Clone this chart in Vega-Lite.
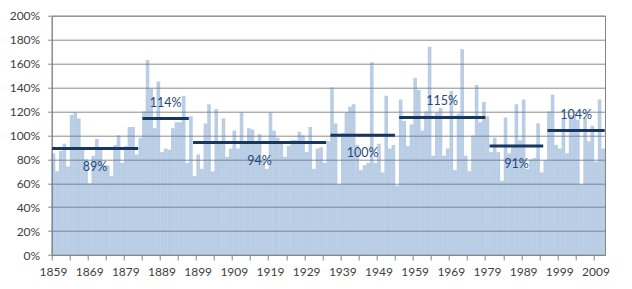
{
  "$schema": "https://vega.github.io/schema/vega-lite/v6.json",
  "width": 553.3,
  "height": 239.3,
  "autosize": {"type": "none"},
  "padding": {"left": 51.7, "top": 15.7, "right": 27, "bottom": 34},
  "config": {
    "view": {"stroke": "#868686", "strokeWidth": 1},
    "font": "Lato",
    "axis": {"labelFont": "Lato", "labelFontSize": 12, "labelColor": "#404040", "domainColor": "#868686", "tickColor": "#868686", "title": null}
  },
  "datasets": {
    "years": [
      {"year":1859,"share":0.85},{"year":1860,"share":0.70},{"year":1861,"share":0.87},{"year":1862,"share":0.93},{"year":1863,"share":0.74},
      {"year":1864,"share":1.17},{"year":1865,"share":1.19},{"year":1866,"share":1.14},{"year":1867,"share":0.88},{"year":1868,"share":0.80},
      {"year":1869,"share":0.60},{"year":1870,"share":0.83},{"year":1871,"share":0.97},{"year":1872,"share":0.89},{"year":1873,"share":0.75},
      {"year":1874,"share":0.75},{"year":1875,"share":0.66},{"year":1876,"share":0.92},{"year":1877,"share":1.00},{"year":1878,"share":0.77},
      {"year":1879,"share":0.91},{"year":1880,"share":1.07},{"year":1881,"share":1.07},{"year":1882,"share":0.84},{"year":1883,"share":0.98},
      {"year":1884,"share":1.20},{"year":1885,"share":1.63},{"year":1886,"share":1.39},{"year":1887,"share":1.06},{"year":1888,"share":1.45},
      {"year":1889,"share":0.86},{"year":1890,"share":0.89},{"year":1891,"share":0.88},{"year":1892,"share":1.06},{"year":1893,"share":1.11},
      {"year":1894,"share":1.11},{"year":1895,"share":1.33},{"year":1896,"share":0.77},{"year":1897,"share":1.16},{"year":1898,"share":0.66},
      {"year":1899,"share":0.84},{"year":1900,"share":0.72},{"year":1901,"share":1.10},{"year":1902,"share":1.26},{"year":1903,"share":0.70},
      {"year":1904,"share":1.22},{"year":1905,"share":0.93},{"year":1906,"share":1.14},{"year":1907,"share":0.82},{"year":1908,"share":0.89},
      {"year":1909,"share":1.04},{"year":1910,"share":0.89},{"year":1911,"share":1.19},{"year":1912,"share":0.93},{"year":1913,"share":1.06},
      {"year":1914,"share":1.05},{"year":1915,"share":0.93},{"year":1916,"share":1.01},{"year":1917,"share":0.79},{"year":1918,"share":0.72},
      {"year":1919,"share":1.19},{"year":1920,"share":1.04},{"year":1921,"share":0.98},{"year":1922,"share":0.93},{"year":1923,"share":0.82},
      {"year":1924,"share":0.91},{"year":1925,"share":0.96},{"year":1926,"share":0.96},{"year":1927,"share":1.03},{"year":1928,"share":1.00},
      {"year":1929,"share":0.86},{"year":1930,"share":1.07},{"year":1931,"share":0.72},{"year":1932,"share":0.89},{"year":1933,"share":0.90},
      {"year":1934,"share":0.77},{"year":1935,"share":0.95},{"year":1936,"share":1.40},{"year":1937,"share":1.10},{"year":1938,"share":0.59},
      {"year":1939,"share":1.02},{"year":1940,"share":1.19},{"year":1941,"share":1.24},{"year":1942,"share":1.26},{"year":1943,"share":0.92},
      {"year":1944,"share":0.71},{"year":1945,"share":0.75},{"year":1946,"share":0.77},{"year":1947,"share":1.61},{"year":1948,"share":0.77},
      {"year":1949,"share":0.93},{"year":1950,"share":0.69},{"year":1951,"share":1.33},{"year":1952,"share":0.89},{"year":1953,"share":0.92},
      {"year":1954,"share":0.58},{"year":1955,"share":1.30},{"year":1956,"share":1.12},{"year":1957,"share":0.91},{"year":1958,"share":1.09},
      {"year":1959,"share":1.48},{"year":1960,"share":1.38},{"year":1961,"share":1.04},{"year":1962,"share":1.20},{"year":1963,"share":1.74},
      {"year":1964,"share":0.83},{"year":1965,"share":1.19},{"year":1966,"share":1.23},{"year":1967,"share":0.83},{"year":1968,"share":0.89},
      {"year":1969,"share":1.37},{"year":1970,"share":0.71},{"year":1971,"share":1.18},{"year":1972,"share":1.72},{"year":1973,"share":0.83},
      {"year":1974,"share":0.70},{"year":1975,"share":1.00},{"year":1976,"share":1.42},{"year":1977,"share":1.11},{"year":1978,"share":1.28},
      {"year":1979,"share":1.16},{"year":1980,"share":0.86},{"year":1981,"share":0.98},{"year":1982,"share":0.86},{"year":1983,"share":0.62},
      {"year":1984,"share":1.15},{"year":1985,"share":0.85},{"year":1986,"share":0.92},{"year":1987,"share":1.26},{"year":1988,"share":0.96},
      {"year":1989,"share":1.30},{"year":1990,"share":0.72},{"year":1991,"share":0.80},{"year":1992,"share":0.81},{"year":1993,"share":1.10},
      {"year":1994,"share":0.69},{"year":1995,"share":0.79},{"year":1996,"share":1.20},{"year":1997,"share":1.34},{"year":1998,"share":0.92},
      {"year":1999,"share":0.89},{"year":2000,"share":1.14},{"year":2001,"share":0.85},{"year":2002,"share":1.17},{"year":2003,"share":1.16},
      {"year":2004,"share":1.13},{"year":2005,"share":0.59},{"year":2006,"share":1.15},{"year":2007,"share":0.95},{"year":2008,"share":1.08},
      {"year":2009,"share":0.78},{"year":2010,"share":1.30},{"year":2011,"share":0.89}
    ],
    "periods": [
      {"from":1859,"to":1882,"mean":0.89},
      {"from":1884,"to":1896,"mean":1.14},
      {"from":1898,"to":1934,"mean":0.94},
      {"from":1936,"to":1953,"mean":1.00},
      {"from":1955,"to":1978,"mean":1.15},
      {"from":1980,"to":1994,"mean":0.91},
      {"from":1996,"to":2011,"mean":1.04}
    ]
  },
  "layer": [
    {
      "data": {"name": "years"},
      "mark": {"type": "bar", "color": "#4F81BD", "opacity": 0.4},
      "encoding": {
        "x": {
          "field": "year", "type": "ordinal",
          "scale": {"paddingInner": 0, "paddingOuter": 0},
          "axis": {
            "bandPosition": 0,
            "values": [1859,1864,1869,1874,1879,1884,1889,1894,1899,1904,1909,1914,1919,1924,1929,1934,1939,1944,1949,1954,1959,1964,1969,1974,1979,1984,1989,1994,1999,2004,2009],
            "labelExpr": "(datum.value - 1859) % 10 == 0 ? '' + datum.value : ''",
            "labelAngle": 0, "labelOverlap": false, "labelFlush": false,
            "tickSize": 5, "labelPadding": 6, "grid": false
          }
        },
        "y": {
          "field": "share", "type": "quantitative",
          "scale": {"domain": [0, 2], "nice": false},
          "axis": {
            "values": [0, 0.2, 0.4, 0.6, 0.8, 1, 1.2, 1.4, 1.6, 1.8, 2],
            "format": ".0%", "grid": true, "gridColor": "#8c8c8c", "gridWidth": 1,
            "tickSize": 4, "labelPadding": 8, "labelOverlap": false
          }
        }
      }
    },
    {
      "data": {"name": "periods"},
      "layer": [
        {
          "mark": {"type": "rule", "color": "#17375E", "strokeWidth": 3, "strokeCap": "square"},
          "encoding": {
            "x": {"field": "from", "type": "quantitative", "scale": {"domain": [1858.5, 2011.5], "nice": false, "zero": false}, "axis": null},
            "x2": {"field": "to"},
            "y": {"field": "mean", "type": "quantitative", "axis": null}
          }
        },
        {
          "transform": [{"filter": "datum.mean > 1"}, {"fold": ["from", "to"], "as": ["k", "yr"]}],
          "mark": {"type": "text", "color": "#1F497D", "fontSize": 12.5, "font": "Lato", "dy": -16, "baseline": "middle", "align": "center"},
          "encoding": {
            "x": {"field": "yr", "aggregate": "mean", "type": "quantitative", "scale": {"domain": [1858.5, 2011.5], "nice": false, "zero": false}, "axis": null},
            "y": {"field": "mean", "type": "quantitative", "axis": null},
            "text": {"field": "mean", "type": "quantitative", "format": ".0%"}
          }
        },
        {
          "transform": [{"filter": "datum.mean <= 1"}, {"fold": ["from", "to"], "as": ["k", "yr"]}],
          "mark": {"type": "text", "color": "#1F497D", "fontSize": 12.5, "font": "Lato", "dy": 18, "baseline": "middle", "align": "center"},
          "encoding": {
            "x": {"field": "yr", "aggregate": "mean", "type": "quantitative", "scale": {"domain": [1858.5, 2011.5], "nice": false, "zero": false}, "axis": null},
            "y": {"field": "mean", "type": "quantitative", "axis": null},
            "text": {"field": "mean", "type": "quantitative", "format": ".0%"}
          }
        }
      ]
    }
  ],
  "resolve": {"scale": {"x": "independent"}, "axis": {"x": "independent", "y": "independent"}}
}
